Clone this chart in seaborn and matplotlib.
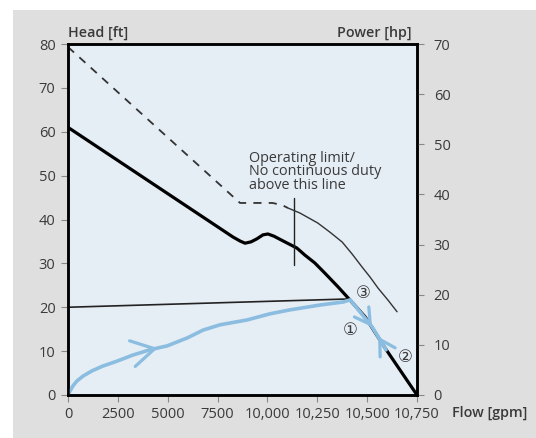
import matplotlib
matplotlib.use("Agg")
import matplotlib.pyplot as plt
import seaborn as sns
import pandas as pd
from matplotlib.patches import Rectangle

# ---------------- data ----------------
flow_labels = ["0", "2500", "5000", "7500", "10,000", "10,250", "10,500", "10,750"]
flow_pos = [0, 1, 2, 3, 4, 5, 6, 7]

# pump head curve [ft]
head_x = [0, 3.31, 3.45, 3.55, 3.67, 3.79, 3.91, 4.01, 4.13, 4.35, 4.59, 4.75, 4.95,
          5.15, 5.42, 5.62, 5.96, 6.36, 7.0]
head_y = [61, 36.0, 35.1, 34.6, 34.9, 35.6, 36.5, 36.7, 36.2, 34.9, 33.5, 31.9, 30.1,
          27.8, 24.6, 22.1, 17.8, 10.7, 0]

# power curve [hp] - dashed part (continuous duty) and thin part
power_dash_x = [0, 3.45, 3.8, 4.1, 4.29, 4.41]
power_dash_y = [69.4, 38.3, 38.3, 38.3, 37.9, 37.3]
power_thin_x = [4.41, 4.65, 5.01, 5.25, 5.50, 5.70, 5.90, 6.06, 6.22, 6.42, 6.60]
power_thin_y = [37.3, 36.3, 34.3, 32.5, 30.5, 28.1, 25.5, 23.5, 21.3, 18.9, 16.6]

# system line [ft]
system_x = [0, 5.66]
system_y = [20, 21.9]

# operating trajectory (blue) [ft]
traj_x = [0, 0.04, 0.10, 0.18, 0.30, 0.48, 0.70, 0.98, 1.30, 1.64, 1.99, 2.39, 2.71,
          3.05, 3.59, 4.05, 4.45, 5.05, 5.52, 5.66, 5.96, 6.10, 6.22]
traj_y = [0, 0.9, 2.1, 3.2, 4.3, 5.5, 6.6, 7.7, 9.1, 10.3, 11.2, 13.0, 14.8,
          16.0, 17.1, 18.5, 19.4, 20.5, 21.2, 21.7, 17.5, 15.5, 13.3]
traj2_x = [6.38, 6.22]
traj2_y = [10.3, 13.3]

# arrows on the trajectory: (tip x, tip y, tail x, tail y, size)
arrow_tip_x = [1.80, 6.10, 6.22]
arrow_tip_y = [10.7, 15.5, 13.3]
arrow_tail_x = [1.64, 6.02, 6.30]
arrow_tail_y = [10.3, 16.8, 11.8]
arrow_size = [1.05, 0.7, 0.7]

# operating limit line
limit_x = 4.53
limit_y = [29.6, 44.9]

# circled markers
mark_text = ["③", "①", "②"]
mark_x = [5.93, 5.66, 6.76]
mark_y = [23.2, 14.9, 8.7]

# ---------------- style ----------------
sns.set_theme(style="white")
plt.rcParams["font.family"] = ["Open Sans", "DejaVu Sans"]

BLUE = "#8bbde0"
FACE = "#e5edf5"
GREY_BG = "#dfdfdf"
TXT = "#3a3a3a"

fig = plt.figure(figsize=(5.36, 4.38), dpi=100)
fig.patch.set_facecolor("white")
fig.patches.append(Rectangle((13 / 536, 0), 1 - 13 / 536, 428 / 438,
                             transform=fig.transFigure, facecolor=GREY_BG,
                             edgecolor="none", zorder=-10))

ax = fig.add_axes([68 / 536, 1 - 395 / 438, (417 - 68) / 536, (395 - 44) / 438])
ax.set_facecolor(FACE)
ax2 = ax.twinx()

df_head = pd.DataFrame({"x": head_x, "y": head_y})
df_sys = pd.DataFrame({"x": system_x, "y": system_y})
df_traj = pd.DataFrame({"x": traj_x, "y": traj_y})
df_traj2 = pd.DataFrame({"x": traj2_x, "y": traj2_y})
df_pd = pd.DataFrame({"x": power_dash_x, "y": power_dash_y})
df_pt = pd.DataFrame({"x": power_thin_x, "y": power_thin_y})

sns.lineplot(data=df_sys, x="x", y="y", ax=ax, color="#222222", lw=1.2, sort=False, zorder=3)
sns.lineplot(data=df_traj, x="x", y="y", ax=ax, color=BLUE, lw=2.6, sort=False, zorder=4)
sns.lineplot(data=df_traj2, x="x", y="y", ax=ax, color=BLUE, lw=2.6, sort=False, zorder=4)
sns.lineplot(data=df_head, x="x", y="y", ax=ax, color="black", lw=2.3, sort=False, zorder=3)

sns.lineplot(data=df_pd, x="x", y="y", ax=ax2, color="#333333", lw=1.3, sort=False,
             linestyle=(0, (4.5, 4)))
sns.lineplot(data=df_pt, x="x", y="y", ax=ax2, color="#333333", lw=1.0, sort=False)

ax.plot([limit_x, limit_x], limit_y, color="#222222", lw=1.0, zorder=3)

for tx, ty, sx, sy, s in zip(arrow_tip_x, arrow_tip_y, arrow_tail_x, arrow_tail_y, arrow_size):
    ax.annotate("", xy=(tx, ty), xytext=(sx, sy),
                arrowprops=dict(arrowstyle=f"->,head_length={1.3 * s},head_width={0.75 * s}",
                                color=BLUE, lw=2.3, shrinkA=0, shrinkB=0),
                zorder=5)

for t, mx, my in zip(mark_text, mark_x, mark_y):
    ax.text(mx, my, t, ha="center", va="center", fontsize=12, color=TXT,
            family=["DejaVu Sans"], zorder=6)

ax.text(3.63, 55.6, "Operating limit/\nNo continuous duty\nabove this line",
        ha="left", va="top", fontsize=10.4, color=TXT, linespacing=0.85, zorder=6)

# axes setup
ax.set_xlim(0, 7)
ax.set_ylim(0, 80)
ax2.set_ylim(0, 70)
ax.set_xticks(flow_pos)
ax.set_xticklabels(flow_labels)
ax.set_yticks(range(0, 81, 10))
ax2.set_yticks(range(0, 71, 10))
ax.set_xlabel("")
ax.set_ylabel("")
ax2.set_ylabel("")

for a in (ax, ax2):
    for sp in a.spines.values():
        sp.set_color("black")
        sp.set_linewidth(1.8)
ax.tick_params(axis="both", which="major", length=5, width=0.8, color="#888888",
               labelsize=10.5, labelcolor=TXT, pad=4, left=True, bottom=True)
ax2.tick_params(axis="y", length=5, width=0.8, color="#888888",
                labelsize=10.5, labelcolor=TXT, pad=7, right=True)

fig.text(68 / 536, 1 - 33 / 438, "Head [ft]", ha="left", va="center",
         fontsize=10.3, color=TXT, fontweight="semibold")
fig.text(412 / 536, 1 - 33 / 438, "Power [hp]", ha="right", va="center",
         fontsize=10.3, color=TXT, fontweight="semibold")
fig.text(452 / 536, 1 - 413 / 438, "Flow [gpm]", ha="left", va="center",
         fontsize=10.3, color=TXT, fontweight="semibold")

fig.savefig("out.png", dpi=100, facecolor=fig.get_facecolor())
